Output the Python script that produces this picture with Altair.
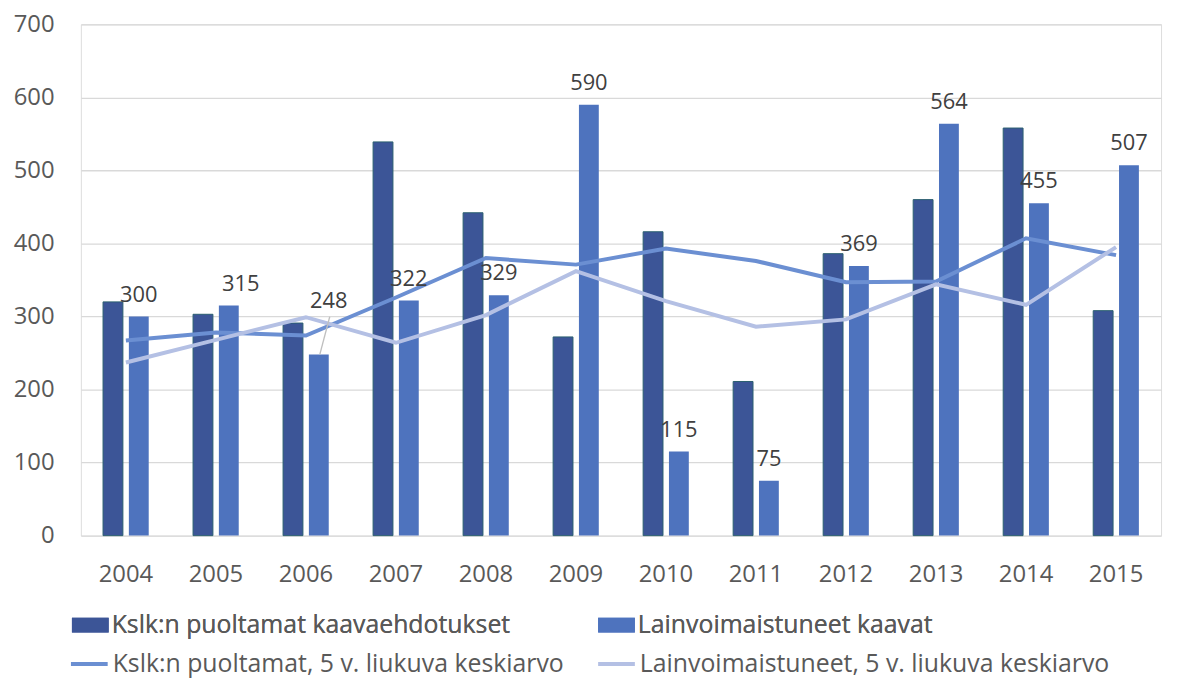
import altair as alt
import pandas as pd

years = ["2004", "2005", "2006", "2007", "2008", "2009", "2010", "2011", "2012", "2013", "2014", "2015"]
kslk = [320, 303, 291, 539, 442, 272, 416, 211, 386, 460, 558, 308]
lainv = [300, 315, 248, 322, 329, 590, 115, 75, 369, 564, 455, 507]
kslk_ma = [267, 278, 274, 326, 380, 371, 393, 376, 347, 348, 407, 384]
lainv_ma = [237, 268, 299, 264, 302, 362, 321, 286, 296, 344, 316, 395]
y_ticks = [0, 100, 200, 300, 400, 500, 600, 700]

S_BAR1 = "Kslk:n puoltamat kaavaehdotukset"
S_BAR2 = "Lainvoimaistuneet kaavat"
S_LINE1 = "Kslk:n puoltamat, 5 v. liukuva keskiarvo"
S_LINE2 = "Lainvoimaistuneet, 5 v. liukuva keskiarvo"

bars = pd.DataFrame({
    "year": years * 2,
    "series": [S_BAR1] * len(years) + [S_BAR2] * len(years),
    "value": kslk + lainv,
})
lines = pd.DataFrame({
    "year": years * 2,
    "series": [S_LINE1] * len(years) + [S_LINE2] * len(years),
    "value": kslk_ma + lainv_ma,
})

FONT = "Open Sans"
DARK = "#3C5597"
LIGHT = "#4E73BE"
MA1 = "#6B8FD2"
MA2 = "#B4C0E4"
TXT = "#595959"

x = alt.X("year:N", sort=years,
          scale=alt.Scale(paddingInner=0, paddingOuter=0),
          axis=alt.Axis(title=None, labelAngle=0, ticks=False, tickSize=0, domain=False, grid=False,
                        labelFontSize=24, labelColor=TXT, labelFont=FONT, labelPadding=27))
y = alt.Y("value:Q",
          scale=alt.Scale(domain=[0, 700], nice=False),
          axis=alt.Axis(title=None, values=y_ticks, ticks=False, tickSize=0, domain=False,
                        gridColor="#D9D9D9", gridWidth=1.3,
                        labelFontSize=24, labelColor=TXT, labelFont=FONT, labelPadding=27))

fill = alt.Fill("series:N",
                scale=alt.Scale(domain=[S_BAR1, S_BAR2], range=[DARK, LIGHT]),
                legend=alt.Legend(title=None, orient="none", legendX=-9, legendY=586.5,
                                  direction="horizontal", columns=2, columnPadding=88,
                                  symbolType="M-1,-0.4H1V0.4H-1Z", symbolSize=1369,
                                  symbolStrokeWidth=0,
                                  labelFontSize=25, labelColor=TXT, labelFont=FONT,
                                  labelLimit=0, labelOffset=3, padding=0))

stroke = alt.Stroke("series:N",
                    scale=alt.Scale(domain=[S_LINE1, S_LINE2], range=[MA1, MA2]),
                    legend=alt.Legend(title=None, orient="none", legendX=-12, legendY=623.5,
                                      direction="horizontal", columns=2, columnPadding=26,
                                      symbolType="stroke", symbolSize=1369, symbolStrokeWidth=4,
                                      labelFontSize=25, labelColor=TXT, labelFont=FONT,
                                      labelLimit=0, labelOffset=3, padding=0))

dark_bars = alt.Chart(bars).transform_filter(alt.datum.series == S_BAR1).mark_bar(
    width=20, xOffset=-13, stroke="#2B6070", strokeWidth=1
).encode(x=x, y=y, fill=fill)

light_bars = alt.Chart(bars).transform_filter(alt.datum.series == S_BAR2).mark_bar(
    width=20, xOffset=13
).encode(x=x, y=y, fill=fill)

ma_lines = alt.Chart(lines).mark_line(strokeWidth=4).encode(x=x, y=y, stroke=stroke)

label_base = alt.Chart(bars).transform_filter(alt.datum.series == S_BAR2)
labels_main = label_base.transform_filter(
    (alt.datum.year != "2005") & (alt.datum.year != "2006")
).mark_text(xOffset=13, dy=-15, baseline="alphabetic", fontSize=22, font=FONT, color="#404040").encode(
    x=x, y=y, text="value:Q")
label_2005 = label_base.transform_filter(alt.datum.year == "2005").mark_text(
    xOffset=25, dy=-15, baseline="alphabetic", fontSize=22, font=FONT, color="#404040").encode(
    x=x, y=y, text="value:Q")
label_2006 = label_base.transform_filter(alt.datum.year == "2006").mark_text(
    xOffset=23, dy=-47, baseline="alphabetic", fontSize=22, font=FONT, color="#404040").encode(
    x=x, y=y, text="value:Q")
leader = label_base.transform_filter(alt.datum.year == "2006").mark_rule(
    xOffset=14, x2Offset=24, y2Offset=-38, color="#BFBFBF", strokeWidth=1.3).encode(
    x=x, x2="year:N", y=y, y2="value:Q")

chart = alt.layer(dark_bars, light_bars, ma_lines, leader, labels_main, label_2005, label_2006).resolve_scale(
    fill="independent", stroke="independent"
).properties(
    width=1088, height=515,
    padding={"left": 73.4, "top": 14, "right": 8, "bottom": 143},
    autosize=alt.AutoSizeParams(type="none"),
).configure_view(stroke=None).configure(background="white")

chart.save("out.html", embed_options={"renderer": "svg", "actions": False})
